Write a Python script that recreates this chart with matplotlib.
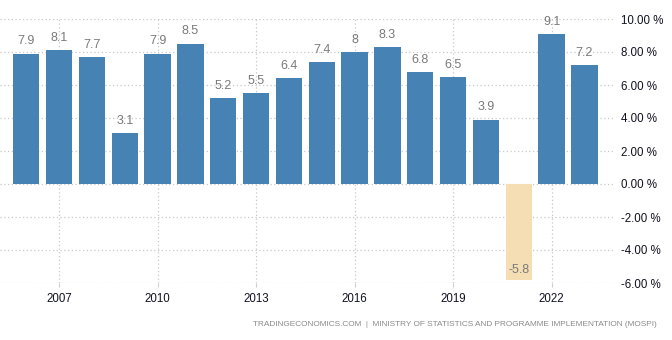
import matplotlib
matplotlib.use("Agg")
import matplotlib.pyplot as plt

years = list(range(2006, 2024))
values = [7.9, 8.1, 7.7, 3.1, 7.9, 8.5, 5.2, 5.5, 6.4, 7.4, 8.0, 8.3, 6.8, 6.5, 3.9, -5.8, 9.1, 7.2]
labels = ["7.9", "8.1", "7.7", "3.1", "7.9", "8.5", "5.2", "5.5", "6.4", "7.4", "8", "8.3", "6.8", "6.5", "3.9", "-5.8", "9.1", "7.2"]
xticks = [2007, 2010, 2013, 2016, 2019, 2022]
yticks = [-6, -4, -2, 0, 2, 4, 6, 8, 10]
source = "TRADINGECONOMICS.COM  |  MINISTRY OF STATISTICS AND PROGRAMME IMPLEMENTATION (MOSPI)"

plt.rcParams['font.family'] = ['Liberation Sans', 'DejaVu Sans']
fig = plt.figure(figsize=(6.72, 3.40), dpi=100)
ax = fig.add_axes([0.0, 57/340, 614/672, (283-19)/340])

colors = ["#4682B4" if v >= 0 else "#F5DEB3" for v in values]
ax.bar(years, values, width=0.8, color=colors, zorder=2)

for x, v, t in zip(years, values, labels):
    ax.annotate(t, xy=(x, v), xytext=(0, 4.5 if v >= 0 else 3), textcoords="offset points",
                ha="center", va="bottom", fontsize=9, color="#7a7a7a", zorder=3)

ax.set_xlim(2005.2, 2023.9)
ax.set_ylim(-6, 10)
ax.set_xticks(xticks)
ax.set_xticklabels([str(y) for y in xticks])
ax.set_yticks(yticks)
ax.set_yticklabels([f"{y:.2f} %" for y in yticks])
ax.yaxis.tick_right()
ax.tick_params(axis="y", length=0, pad=5, labelsize=8.3, labelcolor="#111122")
ax.tick_params(axis="x", length=3, color="#cccccc", pad=4, labelsize=8.3, labelcolor="#111122")
ax.grid(True, axis="both", linestyle=(0, (1, 2)), color="#c8c8c8", linewidth=0.9, zorder=0)
ax.set_axisbelow(True)
for s in ax.spines.values():
    s.set_visible(False)

fig.text(657/672, 1 - 325/340, source, ha="right", va="center", fontsize=5.95, color="#8a8a8a")

fig.savefig("out.png", dpi=100)
